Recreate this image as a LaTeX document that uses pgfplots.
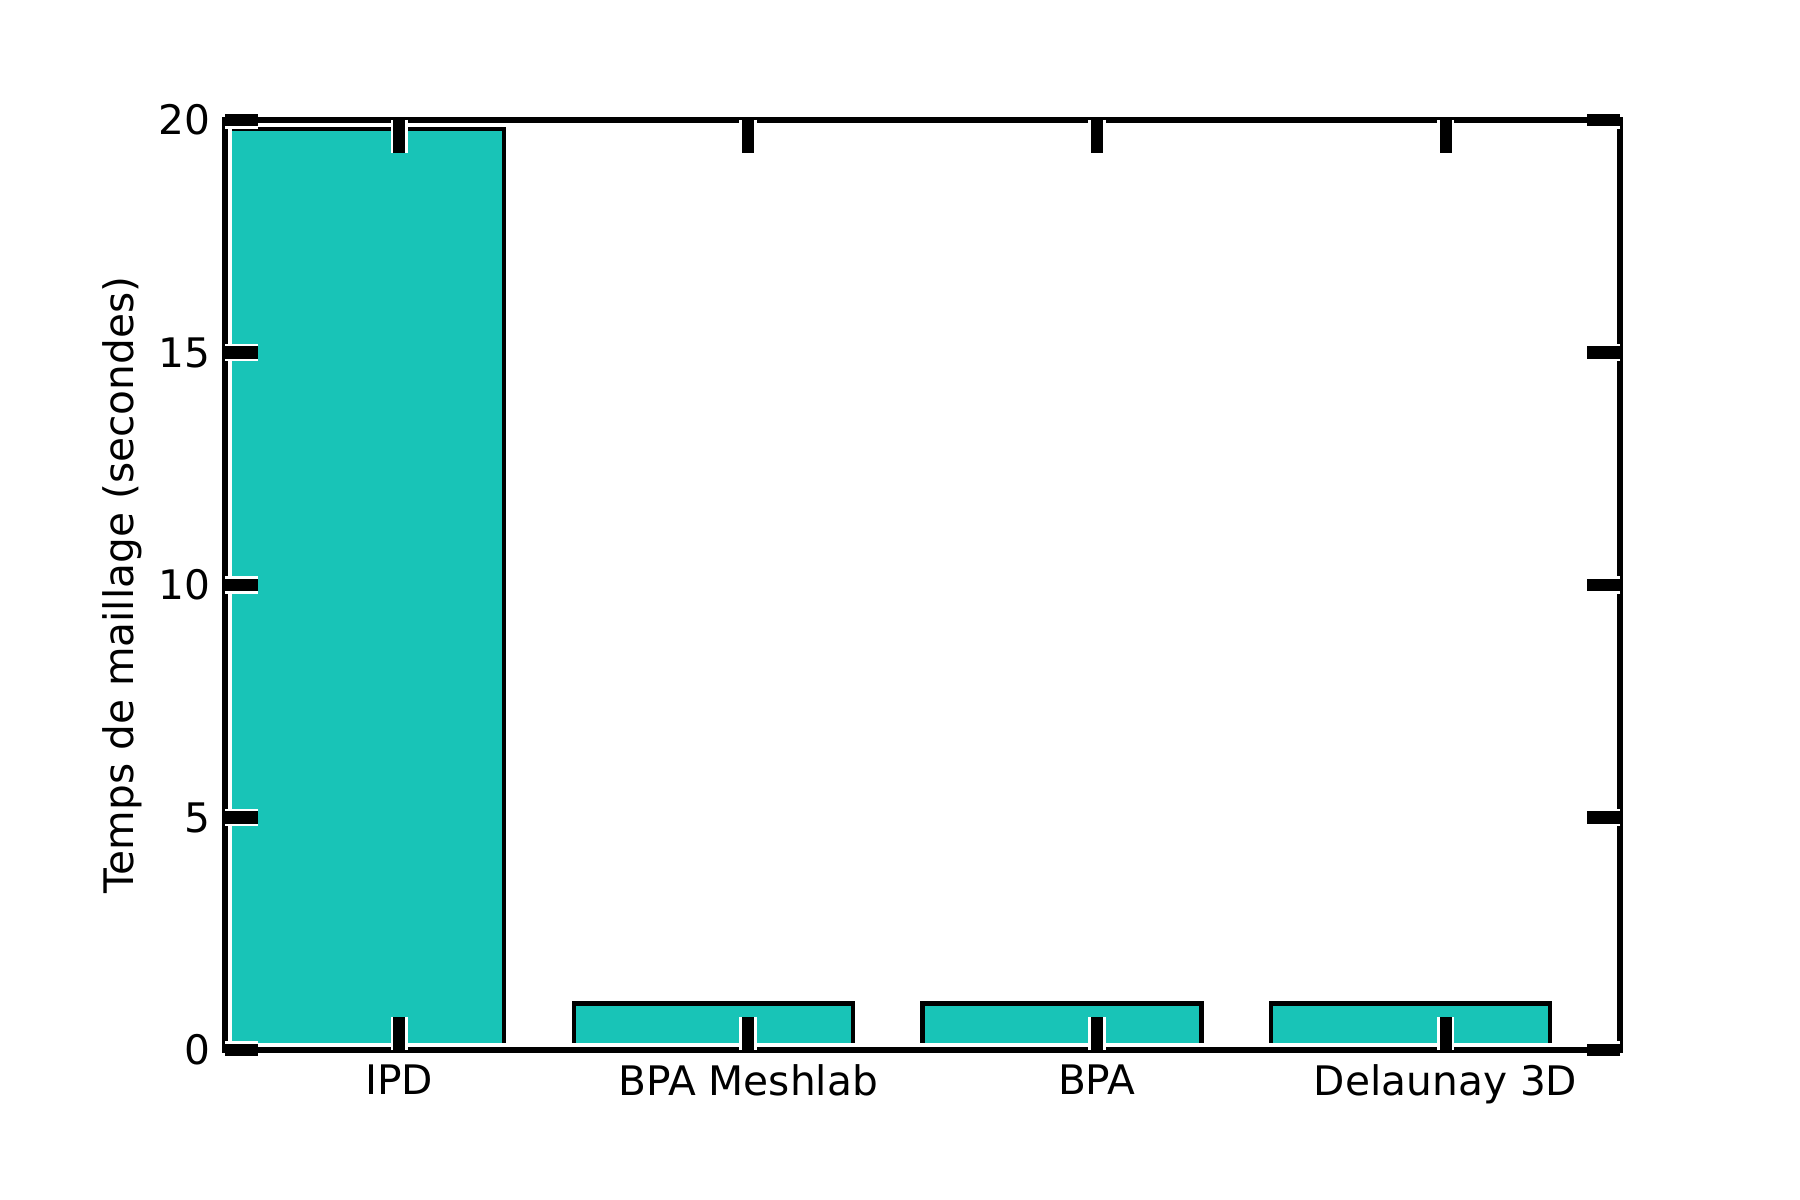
\documentclass[border=0pt]{standalone}
\usepackage{fontspec}
\setmainfont{DejaVu Sans}
\usepackage{pgfplots}
\pgfplotsset{compat=1.18}
\definecolor{barc}{RGB}{24,196,183}
\pgfplotsset{
  common/.style={
    at={(0,0)}, anchor=south west,
    scale only axis, width=334.8bp, height=223.2bp,
    xmin=0, xmax=4, ymin=0, ymax=20,
    xtick={0.5,1.5,2.5,3.5},
    ytick={0,5,10,15,20},
  },
}
\begin{document}
\begin{tikzpicture}
\begin{axis}[
  common,
  xticklabels={IPD,BPA Meshlab,BPA,Delaunay 3D},
  /pgf/number format/assume math mode=true,
  tick label style={font=\fontsize{9.8}{11}\selectfont},
  label style={font=\fontsize{9.8}{11}\selectfont},
  ylabel={Temps de maillage (secondes)},
  ylabel style={at={(rel axis cs:-0.0735,0.5)}, anchor=center},
  axis on top,
  major tick length=7.9bp,
  tick style={draw=none},
  axis line style={black, line width=1.25bp, preaction={draw=white, line width=3.2bp}},
]
\addplot[ybar, bar width=0.8, fill=barc, draw=black, line width=1bp]
  coordinates {(0.4,19.8) (1.4,1.0) (2.4,1.0) (3.4,1.0)};
\end{axis}
\begin{axis}[
  common,
  xticklabels={}, yticklabels={},
  major tick length=7.9bp,
  tick style={black, line width=2.9bp, line cap=butt, preaction={draw=white, line width=4.2bp}},
  axis line style={draw=none},
]
\end{axis}
\pgfresetboundingbox
\path[use as bounding box] (-54bp,-36bp) rectangle (378bp,252bp);
\end{tikzpicture}
\end{document}
